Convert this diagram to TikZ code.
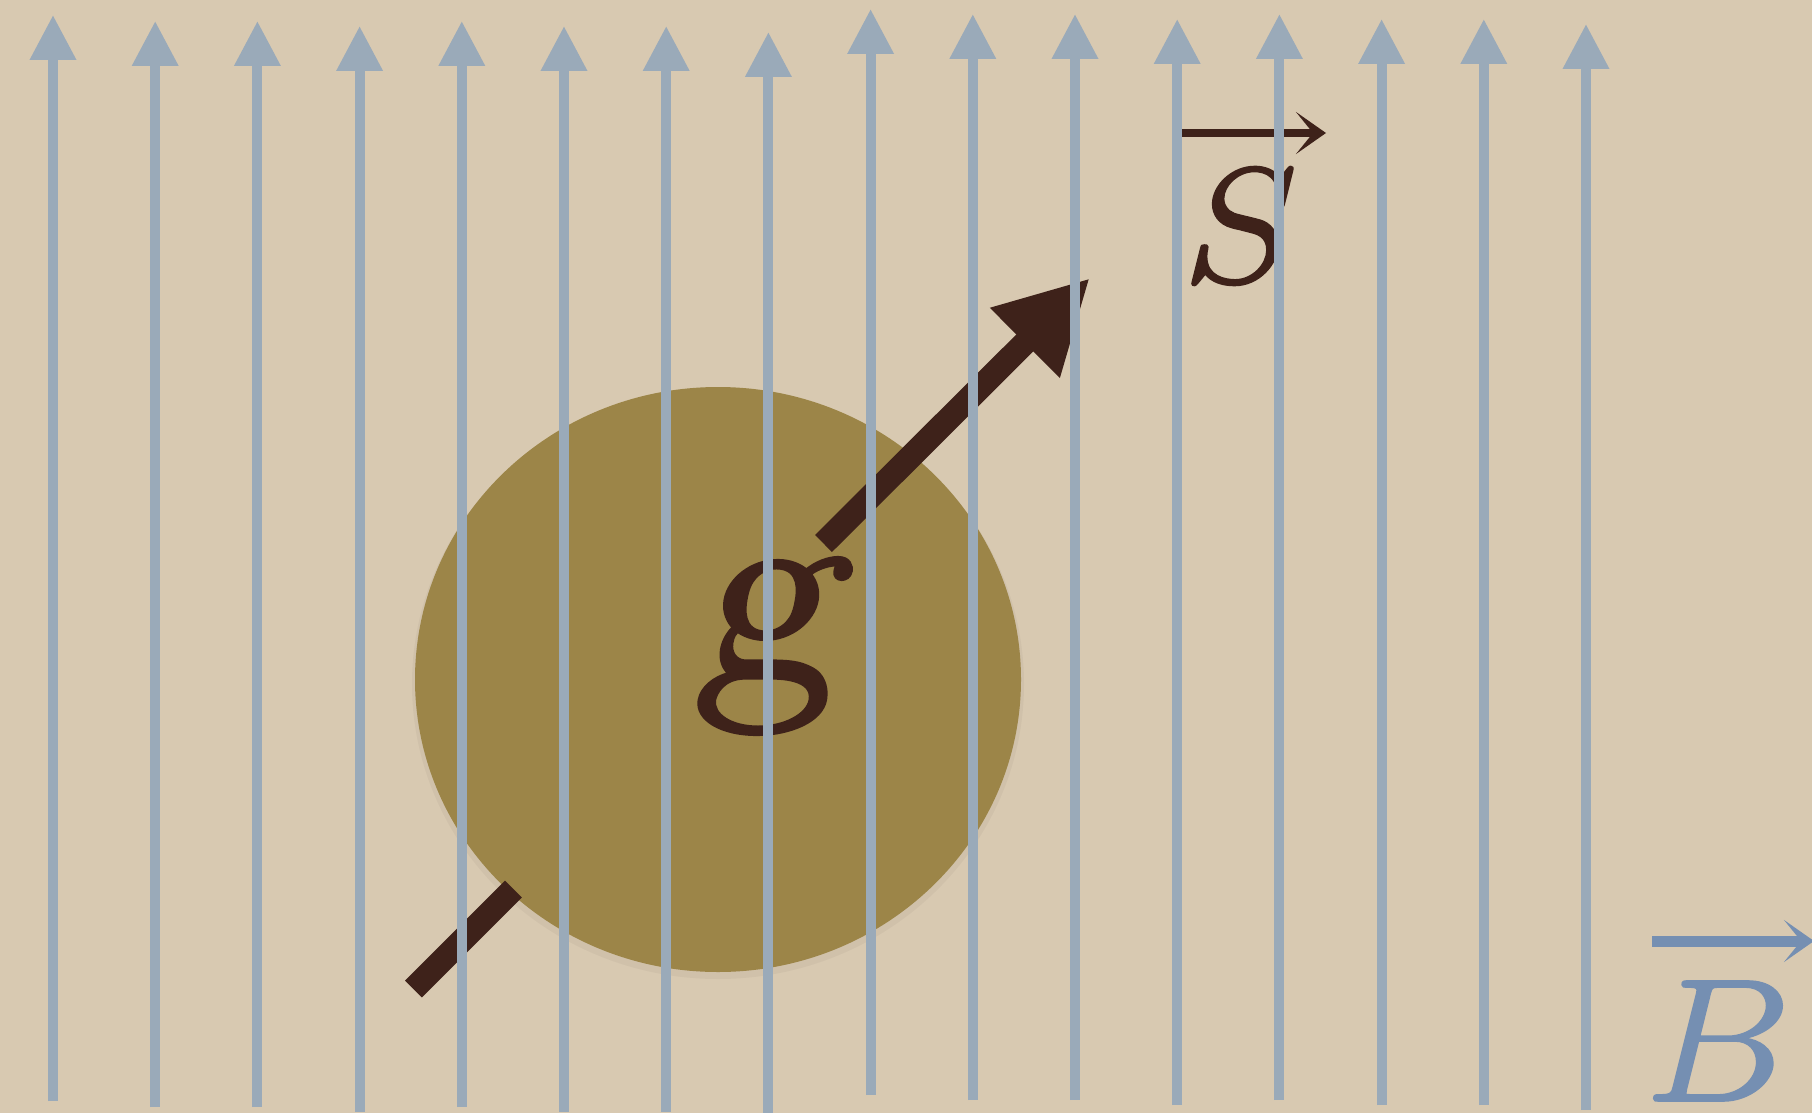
\documentclass[tikz,border=0pt]{standalone}
\usepackage{fontspec}
\newfontfamily\gfont[Extension=.otf, FakeBold=1]{lmromanslant8-regular}
\newfontfamily\ifont[Extension=.otf, FakeBold=0.8]{lmroman7-italic}
\usetikzlibrary{arrows.meta}
\definecolor{bgc}{RGB}{216,201,177}
\definecolor{fieldc}{RGB}{154,170,185}
\definecolor{olivec}{RGB}{156,133,72}
\definecolor{brownc}{RGB}{62,34,26}
\definecolor{bluec}{RGB}{117,143,178}
\tikzset{
  fieldline/.style={draw=fieldc, line width=10pt, -{Triangle[length=45pt,width=44pt]}},
  rod/.style={draw=brownc, line width=24pt},
  vecarrow/.style={line width=#1, -{Stealth[length=30pt,width=42pt,inset=17pt]}},
  bigletter/.style={inner sep=0pt}
}
\begin{document}
\begin{tikzpicture}[x=1pt,y=-1pt]
\fill[bgc] (0,0) rectangle (1812,1113);
\useasboundingbox (0,0) rectangle (1812,1113);
\clip (0,0) rectangle (1812,1113);
% soft shadow and sphere
\fill[black, opacity=0.035] (718,684) ellipse (306 and 295);
\fill[olivec] (718,679.5) ellipse (303 and 292.5);
% spin rod
\coordinate (r1) at (413.5,989);
\coordinate (r2) at (513.5,889);
\coordinate (r3) at (823.5,543.5);
\coordinate (r4) at (1090,278);
\draw[rod] (r1) -- (r2);
\draw[rod, -{Triangle[length=92pt,width=92pt]}] (r3) -- (r4);
% g label
\node[bigletter, text=brownc, font=\fontsize{270}{270}\selectfont\gfont] (gl) at (766,646) {g};
% S label
\node[bigletter, text=brownc, font=\fontsize{165}{165}\selectfont\ifont] (sl) at (1231,226) {S};
\coordinate (s1) at (1181,133);
\coordinate (s2) at (1326,133);
\draw[brownc, vecarrow=8pt] (s1) -- (s2);
% field lines
\foreach \i/\t in {0/15,1/21,2/21,3/26,4/21,5/26,6/26,7/32,8/9,9/14,10/14,11/19,12/14,13/19,14/19,15/24}{
  \draw[fieldline] ({53+102.2*\i},{\t+1086}) -- ({53+102.2*\i},\t);
}
% B label
\node[bigletter, text=bluec, font=\fontsize{176}{176}\selectfont\ifont] (bl) at (1709,1041) {B};
\coordinate (b1) at (1652,941);
\coordinate (b2) at (1814,941);
\draw[bluec, vecarrow=11pt] (b1) -- (b2);
\end{tikzpicture}
\end{document}
